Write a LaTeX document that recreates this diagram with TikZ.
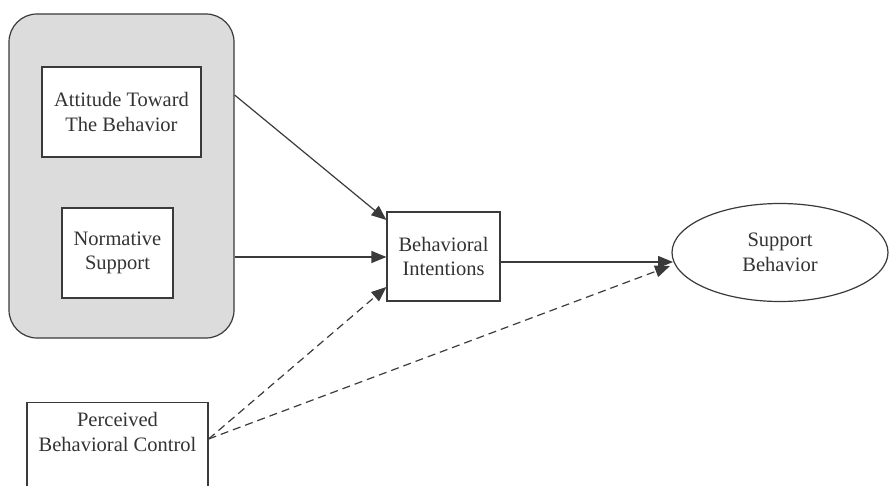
\documentclass[tikz,border=0pt]{standalone}
\usepackage{fontspec}
\setmainfont{Liberation Serif}
\usetikzlibrary{arrows.meta,shapes.geometric}
\definecolor{linec}{HTML}{3A3A3A}
\definecolor{grayfill}{HTML}{DCDCDC}
\definecolor{textc}{HTML}{333333}
\begin{document}
\begin{tikzpicture}[x=1pt,y=-1pt,
  box/.style={draw=linec,line width=1.2pt,fill=white,text=textc,align=center,inner sep=0pt,
    font=\fontsize{20.5}{24.5}\selectfont},
  conn/.style={draw=linec,line width=1.2pt,-{Triangle[length=15pt,width=12pt]}},
  dconn/.style={conn,dash pattern=on 8pt off 5pt}]
\useasboundingbox (0,0) rectangle (890,486);
\clip (0,0) rectangle (890,486);
\node[draw=linec,line width=1.2pt,fill=grayfill,rounded corners=28pt,minimum width=225pt,minimum height=324pt,inner sep=0pt] (grp) at (121.5,176) {};
\node[box,minimum width=159pt,minimum height=90pt] (att) at (121.5,112) {Attitude Toward\\The Behavior};
\node[box,minimum width=111pt,minimum height=90pt] (norm) at (117.5,253) {Normative\\Support};
\node[box,minimum width=113pt,minimum height=89pt] (bi) at (443.5,256.5) {Behavioral\\Intentions};
\node[box,ellipse,minimum width=216pt,minimum height=98pt] (sb) at (780,252.5) {Support\\Behavior};
\node[box,minimum width=181pt,minimum height=120pt,anchor=north] (pbc) at (117.5,402) {};
\node[text=textc,align=center,font=\fontsize{20.5}{24.5}\selectfont] (pbct) at (117.5,432) {Perceived\\Behavioral Control};
\coordinate (a1) at (grp.east |- 0,95);
\coordinate (a2) at (bi.north west |- 0,220);
\coordinate (n1) at (grp.east |- 0,257);
\coordinate (n2) at (bi.west |- 0,257);
\coordinate (p0) at (pbc.east |- 0,439);
\coordinate (p1) at (bi.west |- 0,287);
\coordinate (b1) at (bi.east |- 0,262);
\coordinate (s1) at (673,262);
\coordinate (s2) at (670,266);
\draw[conn] (a1) -- (a2);
\draw[conn] (n1) -- (n2);
\draw[conn] (b1) -- (s1);
\draw[dconn] (p0) -- (p1);
\draw[dconn] (p0) -- (s2);
\end{tikzpicture}
\end{document}
